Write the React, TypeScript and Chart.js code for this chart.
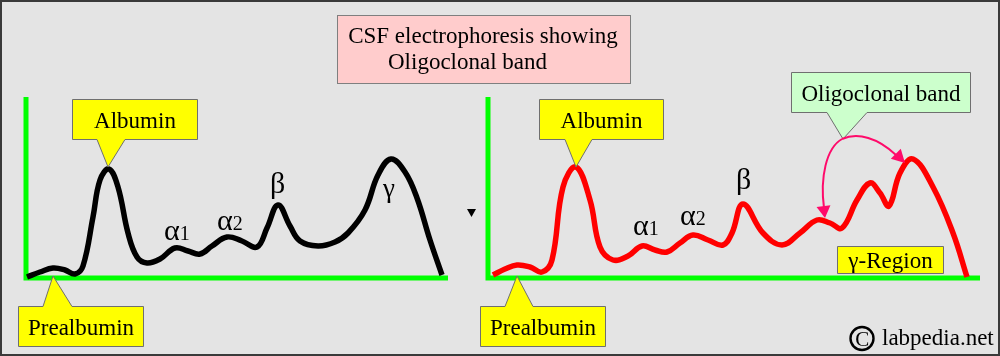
import React, { useEffect, useRef } from "react";
import { Chart, registerables } from "chart.js";

Chart.register(...registerables);

// ---- Data (x = migration position, y = intensity above the baseline) ----
// Left panel: normal CSF protein electrophoresis (black trace)
const normalPosition = [27, 40, 53, 65, 75, 83, 93, 100, 109, 118, 128, 137, 147, 160, 175, 188, 200, 212, 227, 242, 257, 267, 278, 290, 300, 318, 335, 348, 365, 378, 391, 405, 417, 430, 442];
const normalIntensity = [1, 6, 10, 8, 4, 12, 61, 98, 109, 91, 45, 21, 15, 19, 30, 27, 24, 32, 41, 37, 31, 50, 73, 52, 37, 32, 36, 45, 68, 103, 119, 106, 80, 38, 3];

// Right panel: CSF with oligoclonal bands in the gamma region (red trace)
const oligoPosition = [493, 505, 517, 530, 542, 552, 563, 576, 590, 600, 613, 628, 642, 655, 667, 680, 693, 708, 723, 732, 743, 763, 782, 800, 817, 830, 842, 857, 870, 880, 889, 900, 913, 933, 953, 967];
const oligoIntensity = [3, 9, 13, 11, 6, 18, 91, 111, 78, 31, 18, 22, 32, 28, 26, 35, 43, 38, 33, 45, 74, 45, 33, 45, 58, 55, 50, 78, 95, 85, 72, 105, 119, 91, 45, 1];

// Axis frames of each panel
const leftAxisX = [26, 26, 448];
const leftAxisY = [181, 0, 0];
const rightAxisX = [488, 488, 980];
const rightAxisY = [181, 0, 0];

// Texts
const titleLines = ["CSF electrophoresis showing", "Oligoclonal band"];
const calloutLabels = ["Albumin", "Prealbumin", "Albumin", "Prealbumin", "Oligoclonal band", "γ-Region"];
const fractionSymbols = ["α", "α", "β", "γ", "α", "α", "β"];
const fractionIndices = ["1", "2", "", "", "1", "2", ""];
const watermarkText = "labpedia.net";

// ---- Layout of the annotations (same units as the data) ----
const calloutLayout = [
  { box: [72, 197, 179, 139], base: [97, 125], tip: [108, 111], fill: "#ffff00" },
  { box: [18, 143, -28, -68], base: [43, 72], tip: [53, 2], fill: "#ffff00" },
  { box: [539, 663, 179, 139], base: [565, 592], tip: [576, 111], fill: "#ffff00" },
  { box: [480, 605, -28, -68], base: [505, 533], tip: [517, 2], fill: "#ffff00" },
  { box: [791, 970, 206, 166], base: [827, 867], tip: [843, 139], fill: "#ccffcc" },
  { box: [837, 943, 32, 5], base: null, tip: null, fill: "#ffff00" },
];
const titleLayout = { box: [337, 630, 263, 195], lines: [{ x: 483, y: 235, align: "center" }, { x: 388, y: 209, align: "left" }] };
const fractionLayout = [
  { x: 164, y: 38, size: 30 },
  { x: 217, y: 48, size: 30 },
  { x: 270, y: 85, size: 30 },
  { x: 383, y: 81, size: 27 },
  { x: 633, y: 43, size: 30 },
  { x: 680, y: 53, size: 30 },
  { x: 736, y: 89, size: 30 },
];

const FONT = '"Liberation Serif", "Times New Roman", serif';
const BG = "#e4e4e4";
const PINK = "#ff0a6a";

function drawArrowHead(ctx: CanvasRenderingContext2D, fx: number, fy: number, tx: number, ty: number, len: number, half: number) {
  const dx = tx - fx, dy = ty - fy;
  const d = Math.hypot(dx, dy) || 1;
  const ux = dx / d, uy = dy / d;
  const bx = tx - ux * len, by = ty - uy * len;
  ctx.beginPath();
  ctx.moveTo(tx, ty);
  ctx.lineTo(bx - uy * half, by + ux * half);
  ctx.lineTo(bx + uy * half, by - ux * half);
  ctx.closePath();
  ctx.fill();
}

const diagramPlugin = {
  id: "diagramAnnotations",
  beforeDraw(chart: any) {
    const { ctx, width, height } = chart;
    ctx.save();
    ctx.fillStyle = BG;
    ctx.fillRect(0, 0, width, height);
    ctx.restore();
  },
  afterDatasetsDraw(chart: any) {
    const ctx: CanvasRenderingContext2D = chart.ctx;
    const xs = chart.scales.x;
    const ys = chart.scales.y;
    const X = (v: number) => xs.getPixelForValue(v);
    const Y = (v: number) => ys.getPixelForValue(v);
    ctx.save();

    // Title box
    {
      const [a, b, t, u] = titleLayout.box;
      const x0 = Math.round(X(a)) + 0.5, x1 = Math.round(X(b)) + 0.5;
      const y0 = Math.round(Y(t)) + 0.5, y1 = Math.round(Y(u)) + 0.5;
      ctx.fillStyle = "#ffcccc";
      ctx.strokeStyle = "#7f7f7f";
      ctx.lineWidth = 1;
      ctx.fillRect(x0, y0, x1 - x0, y1 - y0);
      ctx.strokeRect(x0, y0, x1 - x0, y1 - y0);
      ctx.fillStyle = "#000";
      ctx.font = `23px ${FONT}`;
      ctx.textBaseline = "alphabetic";
      titleLines.forEach((line, i) => {
        const p = titleLayout.lines[i];
        ctx.textAlign = p.align as CanvasTextAlign;
        ctx.fillText(line, X(p.x), Y(p.y));
      });
    }

    // Callouts
    calloutLayout.forEach((c, i) => {
      const x0 = Math.round(X(c.box[0])) + 0.5, x1 = Math.round(X(c.box[1])) + 0.5;
      const yT = Math.round(Y(c.box[2])) + 0.5, yB = Math.round(Y(c.box[3])) + 0.5;
      ctx.beginPath();
      if (c.tip && c.base) {
        const b0 = X(c.base[0]), b1 = X(c.base[1]);
        const tx = X(c.tip[0]), ty = Y(c.tip[1]);
        if (ty > yB) {
          ctx.moveTo(x0, yT);
          ctx.lineTo(x1, yT);
          ctx.lineTo(x1, yB);
          ctx.lineTo(b1, yB);
          ctx.lineTo(tx, ty);
          ctx.lineTo(b0, yB);
          ctx.lineTo(x0, yB);
        } else {
          ctx.moveTo(x0, yT);
          ctx.lineTo(b0, yT);
          ctx.lineTo(tx, ty);
          ctx.lineTo(b1, yT);
          ctx.lineTo(x1, yT);
          ctx.lineTo(x1, yB);
          ctx.lineTo(x0, yB);
        }
      } else {
        ctx.rect(x0, yT, x1 - x0, yB - yT);
      }
      ctx.closePath();
      ctx.fillStyle = c.fill;
      ctx.fill();
      ctx.strokeStyle = "#6f6f6f";
      ctx.lineWidth = 1;
      ctx.stroke();
      ctx.fillStyle = "#000";
      ctx.font = `23px ${FONT}`;
      ctx.textAlign = "center";
      ctx.textBaseline = "alphabetic";
      ctx.fillText(calloutLabels[i], (x0 + x1) / 2, (yT + yB) / 2 + 8);
    });

    // Fraction labels (alpha1, alpha2, beta, gamma)
    fractionSymbols.forEach((s, i) => {
      const p = fractionLayout[i];
      ctx.fillStyle = "#000";
      ctx.textAlign = "left";
      ctx.textBaseline = "alphabetic";
      ctx.font = `${p.size}px ${FONT}`;
      const x = X(p.x), y = Y(p.y);
      ctx.fillText(s, x, y);
      const w = ctx.measureText(s).width;
      if (fractionIndices[i]) {
        ctx.font = `20px ${FONT}`;
        ctx.fillText(fractionIndices[i], x + w, y);
      }
    });

    // Oligoclonal band arrows
    ctx.strokeStyle = PINK;
    ctx.fillStyle = PINK;
    ctx.lineWidth = 2;
    ctx.beginPath();
    ctx.moveTo(X(842), Y(139));
    ctx.bezierCurveTo(X(826), Y(130), X(820), Y(100), X(824), Y(70));
    ctx.stroke();
    drawArrowHead(ctx, X(823), Y(76), X(825), Y(60), 12, 7);
    ctx.beginPath();
    ctx.moveTo(X(842), Y(139));
    ctx.bezierCurveTo(X(858), Y(146), X(878), Y(140), X(896), Y(123));
    ctx.stroke();
    drawArrowHead(ctx, X(893), Y(127), X(905), Y(115), 13, 7);

    // Small marker between the panels
    ctx.fillStyle = "#000";
    ctx.beginPath();
    ctx.moveTo(X(467), Y(69));
    ctx.lineTo(X(476), Y(69));
    ctx.lineTo(X(471.5), Y(61));
    ctx.closePath();
    ctx.fill();

    // Watermark
    ctx.strokeStyle = "#000";
    ctx.lineWidth = 2.4;
    ctx.beginPath();
    ctx.arc(X(862), Y(-60.5), 11.5, 0, Math.PI * 2);
    ctx.stroke();
    ctx.font = `21px ${FONT}`;
    ctx.textAlign = "center";
    ctx.textBaseline = "alphabetic";
    ctx.fillText("C", X(862.3), Y(-60.5) + 7);
    ctx.font = `23px ${FONT}`;
    ctx.textAlign = "left";
    ctx.fillText(watermarkText, X(882), Y(-67));

    ctx.restore();
  },
  afterDraw(chart: any) {
    const { ctx, width, height } = chart;
    ctx.save();
    ctx.strokeStyle = "#3a3a3a";
    ctx.lineWidth = 2;
    ctx.strokeRect(1, 1, width - 2, height - 2);
    ctx.restore();
  },
};

function toPoints(xs: number[], ys: number[]) {
  return xs.map((x, i) => ({ x, y: ys[i] }));
}

const curveStyle = {
  borderWidth: 5.5,
  pointRadius: 0,
  tension: 0.4,
  borderJoinStyle: "round" as const,
  borderCapStyle: "butt" as const,
  fill: false,
  clip: false as any,
};

const axisStyle = {
  borderColor: "#00ff00",
  borderWidth: 5,
  pointRadius: 0,
  tension: 0,
  borderJoinStyle: "miter" as const,
  borderCapStyle: "butt" as const,
  fill: false,
  clip: false as any,
};

export default function App() {
  const ref = useRef<HTMLCanvasElement | null>(null);
  useEffect(() => {
    document.body.style.margin = "0";
    if (!ref.current) return;
    const chart = new Chart(ref.current, {
      type: "line",
      data: {
        datasets: [
          { label: "Normal CSF", data: toPoints(normalPosition, normalIntensity), borderColor: "#000000", ...curveStyle },
          { label: "Oligoclonal CSF", data: toPoints(oligoPosition, oligoIntensity), borderColor: "#ff0000", ...curveStyle },
          { label: "Left axes", data: toPoints(leftAxisX, leftAxisY), ...axisStyle },
          { label: "Right axes", data: toPoints(rightAxisX, rightAxisY), ...axisStyle },
        ],
      },
      options: {
        animation: false,
        responsive: false,
        devicePixelRatio: 1,
        layout: { padding: 0 },
        plugins: { legend: { display: false }, tooltip: { enabled: false }, title: { display: false } },
        events: [],
        scales: {
          x: { type: "linear", min: 0, max: 1000, display: false },
          y: { type: "linear", min: -78, max: 278, display: false },
        },
      },
      plugins: [diagramPlugin],
    });
    return () => chart.destroy();
  }, []);
  return (
    <div style={{ width: 1000, height: 356 }}>
      <canvas ref={ref} width={1000} height={356} style={{ display: "block" }} />
    </div>
  );
}
